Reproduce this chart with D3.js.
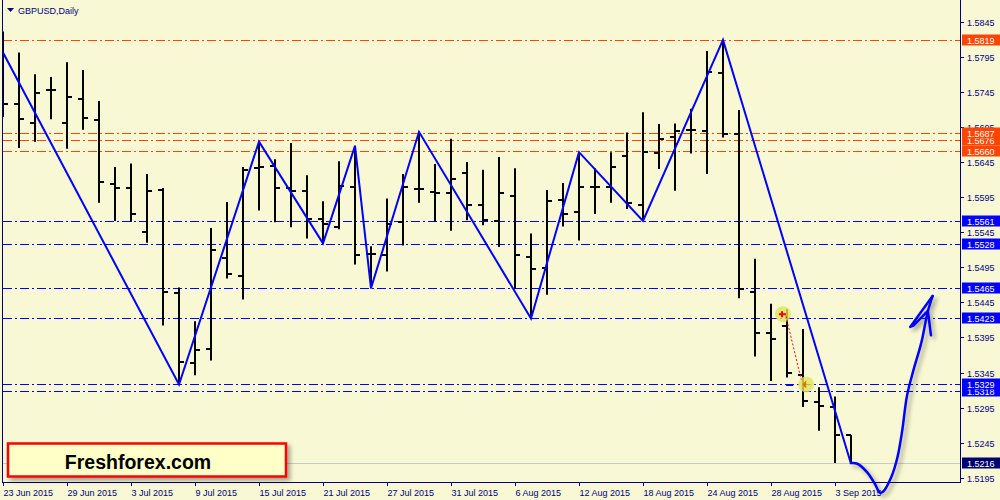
<!DOCTYPE html>
<html><head><meta charset="utf-8">
<script src="https://cdn.jsdelivr.net/npm/d3@7"></script>
<style>
html,body{margin:0;padding:0;background:#f8f8d4;}
svg{display:block;}
text{font-family:"Liberation Sans",Arial,sans-serif;}
</style></head>
<body>
<svg id="chart" width="1000" height="500"></svg>
<script>
// ---- data ----
const dates = ["23 Jun 2015","24 Jun","25 Jun","26 Jun","29 Jun 2015","30 Jun","1 Jul","2 Jul","3 Jul 2015","6 Jul","7 Jul","8 Jul","9 Jul 2015","10 Jul","13 Jul","14 Jul","15 Jul 2015","16 Jul","17 Jul","20 Jul","21 Jul 2015","22 Jul","23 Jul","24 Jul","27 Jul 2015","28 Jul","29 Jul","30 Jul","31 Jul 2015","3 Aug","4 Aug","5 Aug","6 Aug 2015","7 Aug","10 Aug","11 Aug","12 Aug 2015","13 Aug","14 Aug","17 Aug","18 Aug 2015","19 Aug","20 Aug","21 Aug","24 Aug 2015","25 Aug","26 Aug","27 Aug","28 Aug 2015","31 Aug","1 Sep","2 Sep","3 Sep 2015","4 Sep"];
const open  = [1.5755,1.5728,1.5701,1.5747,1.5700,1.5735,1.5705,1.5614,1.5608,1.5545,
               1.5605,1.5459,1.5359,1.5379,1.5508,1.5483,1.5636,1.5640,1.5608,1.5603,
               1.5564,1.5553,1.5610,1.5514,1.5512,1.5559,1.5607,1.5602,1.5601,1.5630,
               1.5584,1.5561,1.5597,1.5509,1.5494,1.5591,1.5574,1.5610,1.5609,1.5654,
               1.5584,1.5658,1.5680,1.5690,1.5689,1.5772,1.5685,1.5460,1.5401,1.5411,
               1.5342,1.5303,1.5296,1.5256];
const high  = [1.5831,1.5801,1.5770,1.5766,1.5787,1.5776,1.5732,1.5638,1.5643,1.5628,
               1.5608,1.5466,1.5418,1.5551,1.5588,1.5638,1.5674,1.5649,1.5672,1.5626,
               1.5589,1.5646,1.5668,1.5525,1.5593,1.5628,1.5688,1.5642,1.5678,1.5645,
               1.5634,1.5652,1.5636,1.5543,1.5605,1.5615,1.5659,1.5636,1.5659,1.5687,
               1.5716,1.5699,1.5700,1.5721,1.5803,1.5819,1.5719,1.5507,1.5443,1.5435,
               1.5407,1.5324,1.5311,1.5256];
const low   = [1.5709,1.5665,1.5674,1.5706,1.5664,1.5691,1.5587,1.5561,1.5560,1.5530,
               1.5412,1.5328,1.5341,1.5362,1.5479,1.5449,1.5576,1.5559,1.5552,1.5536,
               1.5529,1.5549,1.5499,1.5465,1.5489,1.5526,1.5587,1.5560,1.5547,1.5562,
               1.5555,1.5524,1.5465,1.5422,1.5456,1.5553,1.5533,1.5571,1.5587,1.5578,
               1.5561,1.5635,1.5604,1.5657,1.5628,1.5680,1.5451,1.5368,1.5333,1.5338,
               1.5296,1.5262,1.5216,1.5215];
const close = [1.5728,1.5706,1.5744,1.5747,1.5737,1.5707,1.5617,1.5608,1.5571,1.5603,
               1.5460,1.5360,1.5377,1.5519,1.5485,1.5634,1.5638,1.5608,1.5603,1.5564,
               1.5556,1.5611,1.5513,1.5514,1.5556,1.5610,1.5607,1.5601,1.5621,1.5584,
               1.5563,1.5601,1.5512,1.5493,1.5589,1.5571,1.5610,1.5610,1.5638,1.5586,
               1.5659,1.5678,1.5689,1.5690,1.5773,1.5685,1.5464,1.5401,1.5393,1.5345,
               1.5305,1.5298,1.5256,1.5216];
const zigIndex = [0,11,16,20,22,23,26,33,36,40,45,53];
const zigPrice = [1.5801,1.5328,1.5674,1.5529,1.5668,1.5465,1.5688,1.5422,1.5659,1.5561,1.5819,1.5215];
const redLevels  = [1.5819,1.5676,1.5687,1.5660];
const blueLevels = [1.5561,1.5528,1.5465,1.5423,1.5318,1.5329];
const bidPrice = 1.5216;
const priceTicks = ["1.5195","1.5245","1.5295","1.5345","1.5395","1.5445","1.5495","1.5545","1.5595","1.5645","1.5695","1.5745","1.5795","1.5845"];
const forecastIndex = [53,53.4,54.0,54.5,54.8,55.0,55.5,55.9,56.2,56.5,56.9,57.4,57.8,58.1];
const forecastPrice = [1.5216,1.5215,1.5203,1.5186,1.5174,1.5175,1.5195,1.5224,1.5262,1.5312,1.5348,1.5388,1.5432,1.5454];
const arrowIndex = [58.1,56.7,56.9,57.8,58.0];
const arrowPrice = [1.5454,1.5410,1.5412,1.5433,1.5398];
const tradeIndex = [48.75,50.2];
const tradePrice = [1.5428,1.5328];

// ---- scales ----
const svg = d3.select("#chart");
const x = d3.scaleLinear().domain([0,53]).range([3,851]);
const y = d3.scaleLinear().domain([1.5189,1.5873]).range([482,2]);
const navy = "#000080";
const py = v => Math.round(y(v)) + 0.5;

svg.append("rect").attr("width",1000).attr("height",500).attr("fill","#f8f8d4");

const defs = svg.append("defs");
defs.append("clipPath").attr("id","plot").append("rect").attr("x",2).attr("y",0).attr("width",958).attr("height",482);
const sh = defs.append("filter").attr("id","shadow").attr("x","-20%").attr("y","-20%").attr("width","150%").attr("height","150%");
sh.append("feDropShadow").attr("dx",3).attr("dy",3).attr("stdDeviation",2).attr("flood-color","#000").attr("flood-opacity",0.35);

const plot = svg.append("g").attr("clip-path","url(#plot)");

// level lines
const dash = "9,3,2,3";
plot.selectAll(".rl").data(redLevels).join("line")
  .attr("x1",3).attr("x2",960).attr("y1",d=>py(d)).attr("y2",d=>py(d))
  .attr("stroke","#ff4500").attr("stroke-dasharray",dash);
plot.selectAll(".bl").data(blueLevels).join("line")
  .attr("x1",3).attr("x2",960).attr("y1",d=>py(d)).attr("y2",d=>py(d))
  .attr("stroke","#0000ff").attr("stroke-dasharray",dash);
plot.append("line").attr("x1",3).attr("x2",960).attr("y1",py(bidPrice)).attr("y2",py(bidPrice)).attr("stroke","#c8c8c8");

// bars
const idx = d3.range(open.length);
const bars = plot.append("g").attr("stroke","#000").attr("stroke-width",2);
idx.forEach(i=>{
  const cx = Math.round(x(i));
  bars.append("line").attr("x1",cx).attr("x2",cx).attr("y1",y(high[i])).attr("y2",y(low[i]));
  const yo = Math.round(y(open[i])), yc = Math.round(y(close[i]));
  bars.append("line").attr("x1",cx-5).attr("x2",cx).attr("y1",yo).attr("y2",yo);
  bars.append("line").attr("x1",cx).attr("x2",cx+5).attr("y1",yc).attr("y2",yc);
});

// zigzag
const zz = zigIndex.map((d,i)=>[x(d),y(zigPrice[i])]);
plot.append("path").attr("d",d3.line()(zz)).attr("fill","none").attr("stroke","#0000ff").attr("stroke-width",2);

// trade markers
const tp = tradeIndex.map((d,i)=>[x(d),y(tradePrice[i])]);
plot.selectAll(".tc").data(tp).join("circle").attr("cx",d=>d[0]).attr("cy",d=>d[1]).attr("r",8)
  .attr("fill","#e2e25a").attr("fill-opacity",0.8);
plot.append("path").attr("d",d3.line()([[tp[0][0]+3,tp[0][1]+2],[tp[1][0]-5,tp[1][1]-5]]))
  .attr("stroke","#ff0000").attr("stroke-dasharray","2,2").attr("fill","none");
plot.append("path").attr("d",`M${tp[0][0]-4},${tp[0][1]}h7M${tp[0][0]-1},${tp[0][1]-3}v6`).attr("stroke","#ff0000").attr("stroke-width",2);
plot.append("path").attr("d",`M${tp[1][0]-4},${tp[1][1]}l4,-4v8z`).attr("fill","#d87800");
plot.append("line").attr("x1",tp[1][0]-20).attr("x2",tp[1][0]-13).attr("y1",Math.round(tp[1][1])+1.5).attr("y2",Math.round(tp[1][1])+1.5).attr("stroke","#0000ff");

// frame / axes
svg.append("line").attr("x1",2.5).attr("x2",2.5).attr("y1",0).attr("y2",482).attr("stroke",navy);
svg.append("line").attr("x1",2).attr("x2",960).attr("y1",482.5).attr("y2",482.5).attr("stroke",navy);
svg.append("line").attr("x1",960.5).attr("x2",960.5).attr("y1",0).attr("y2",483).attr("stroke",navy);

// right price axis
const yAxis = svg.append("g");
priceTicks.forEach(t=>{
  const v = +t, yy = py(v);
  yAxis.append("line").attr("x1",960).attr("x2",964).attr("y1",yy).attr("y2",yy).attr("stroke",navy);
  yAxis.append("text").attr("x",967).attr("y",yy+3.5).attr("font-size",9).attr("fill",navy).text(t);
});

// bottom time axis
const xAxis = svg.append("g");
idx.filter(i=>i%4===0).forEach(i=>{
  const xx = Math.round(x(i))+0.5;
  xAxis.append("line").attr("x1",xx).attr("x2",xx).attr("y1",482).attr("y2",486).attr("stroke",navy);
  xAxis.append("text").attr("x",xx).attr("y",495.5).attr("font-size",9).attr("fill",navy).text(dates[i]);
});

// level labels
function lvlLabel(v,bg){
  const yy = Math.round(y(v));
  svg.append("rect").attr("x",962).attr("y",yy-5.5).attr("width",38).attr("height",11).attr("fill",bg);
  svg.append("text").attr("x",967).attr("y",yy+3.5).attr("font-size",9).attr("fill","#fff").text(v.toFixed(4));
}
redLevels.forEach(v=>lvlLabel(v,"#ff4500"));
blueLevels.forEach(v=>lvlLabel(v,"#0000ff"));
lvlLabel(bidPrice,"#000070");

// hand-drawn forecast
const fc = forecastIndex.map((d,i)=>[x(d),y(forecastPrice[i])]);
const ar = arrowIndex.map((d,i)=>[x(d),y(arrowPrice[i])]);
const fg = svg.append("g").attr("filter","url(#shadow)");
fg.append("path").attr("d",d3.line().curve(d3.curveCatmullRom)(fc)).attr("fill","none").attr("stroke","#0000ff").attr("stroke-width",2.5).attr("stroke-linejoin","round").attr("stroke-linecap","round");
fg.append("path").attr("d",d3.line()(ar)).attr("fill","none").attr("stroke","#0000ff").attr("stroke-width",2.5).attr("stroke-linejoin","round").attr("stroke-linecap","round");

// title
svg.append("path").attr("d","M7,8h7l-3.5,4z").attr("fill",navy);
svg.append("text").attr("x",18).attr("y",14).attr("font-size",9).attr("fill",navy).text("GBPUSD,Daily");

// logo box
const lg = svg.append("g");
lg.append("rect").attr("x",8).attr("y",443.5).attr("width",278).attr("height",33).attr("fill","#ffffc8")
  .attr("stroke","#ff0000").attr("stroke-width",2.5).attr("filter","url(#shadow)");
lg.append("text").attr("x",138).attr("y",469).attr("text-anchor","middle").attr("font-size",19.5).attr("font-weight","bold").attr("fill","#000").text("Freshforex.com");
</script>
</body></html>
